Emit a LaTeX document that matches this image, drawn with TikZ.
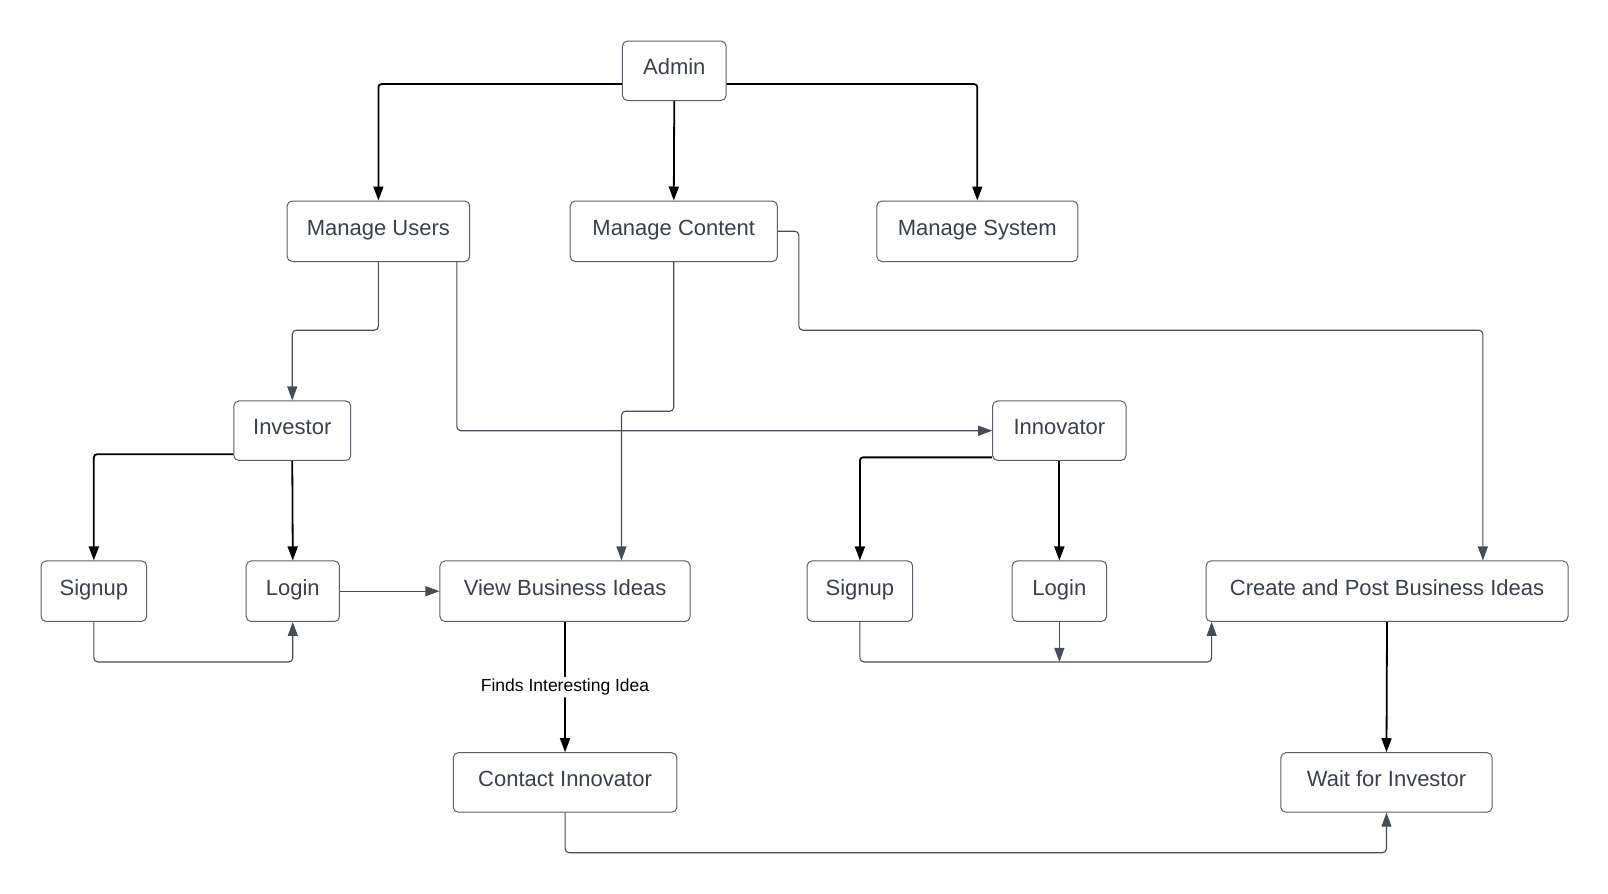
\documentclass[tikz,border=0pt]{standalone}
\usepackage{fontspec}
\setmainfont{Liberation Sans}
\usetikzlibrary{arrows.meta,calc}
\definecolor{txt}{HTML}{3A414A}
\definecolor{edge}{HTML}{5A5E66}
\definecolor{link}{HTML}{474D57}
\begin{document}
\begin{tikzpicture}[x=1.0255pt,y=-1.0255pt,
  box/.style={draw=edge,line width=1pt,rounded corners=5pt,fill=white,
    text=txt,font=\fontsize{22}{24}\selectfont,inner sep=0pt,
    text height=15pt,text depth=7pt,
    minimum height=59*1.0255pt},
  blk/.style={draw=black,line width=1.8pt,rounded corners=3pt,
    -{Triangle[length=14pt,width=10pt]}},
  gry/.style={draw=link,line width=1.1pt,rounded corners=4pt,
    -{Triangle[length=14pt,width=10pt]}},
  lbl/.style={fill=white,text=black,font=\fontsize{17.5}{20}\selectfont,inner sep=2pt}]
\useasboundingbox[fill=white] (0,0) rectangle (1568,871);

% boxes
\node[box,minimum width=101*1.0255pt,minimum height=58*1.0255pt] (admin) at (657.5,69) {Admin};
\node[box,minimum width=178*1.0255pt] (mu) at (369,225.5) {Manage Users};
\node[box,minimum width=202*1.0255pt] (mc) at (657,225.5) {Manage Content};
\node[box,minimum width=196*1.0255pt] (ms) at (953,225.5) {Manage System};
\node[box,minimum width=114*1.0255pt,minimum height=58*1.0255pt] (inv) at (285,420) {Investor};
\node[box,minimum width=130*1.0255pt,minimum height=58*1.0255pt] (inn) at (1033,420) {Innovator};
\node[box,minimum width=103*1.0255pt] (sl) at (91.5,576.5) {Signup};
\node[box,minimum width=91*1.0255pt] (ll) at (285.5,576.5) {Login};
\node[box,minimum width=244*1.0255pt] (vb) at (551,576.5) {View Business Ideas};
\node[box,minimum width=103*1.0255pt] (sr) at (838.5,576.5) {Signup};
\node[box,minimum width=92*1.0255pt] (lr) at (1033,576.5) {Login};
\node[box,minimum width=353*1.0255pt] (cp) at (1352.5,576.5) {Create and Post Business Ideas};
\node[box,minimum width=218*1.0255pt,minimum height=58*1.0255pt] (ct) at (551,763) {Contact Innovator};
\node[box,minimum width=206*1.0255pt,minimum height=58*1.0255pt] (wt) at (1352,763) {Wait for Investor};

% admin branches
\draw[blk] ($(admin.west)+(0,13)$) -| (mu.north);
\draw[blk] (admin.south) -- (mc.north);
\draw[blk] ($(admin.east)+(0,13)$) -| (ms.north);

% user management
\draw[gry] (mu.south) -- (mu.south |- 0,322) -| (inv.north);
\draw[gry] ($(mu.south east)+(-13,0)$) |- (inn.west);

% content management
\draw[gry] (mc.south) -- (mc.south |- 0,401) -| ($(vb.north)+(55,0)$);
\draw[gry] (mc.east) -| (779,322) -| ($(cp.north)+(93.5,0)$);

% investor flow
\draw[blk] ($(inv.west)+(0,23)$) -| (sl.north);
\draw[blk] (inv.south) -- (ll.north);
\draw[gry] (sl.south) -- ++(0,39) -| (ll.south);
\draw[gry] (ll.east) -- (vb.west);
\draw[blk] (vb.south) -- (ct.north) node[lbl,pos=0.5] {Finds Interesting Idea};

% innovator flow
\draw[blk] ($(inn.west)+(0,26)$) -| (sr.north);
\draw[blk] (inn.south) -- (lr.north);
\draw[gry] (sr.south) -- ++(0,39) -| ($(cp.south west)+(6,0)$);
\draw[gry] (lr.south) -- ++(0,39);
\draw[blk] (cp.south) -- (wt.north);

% contact reaches the waiting innovator
\draw[gry] (ct.south) -- ++(0,39) -| (wt.south);
\end{tikzpicture}
\end{document}
